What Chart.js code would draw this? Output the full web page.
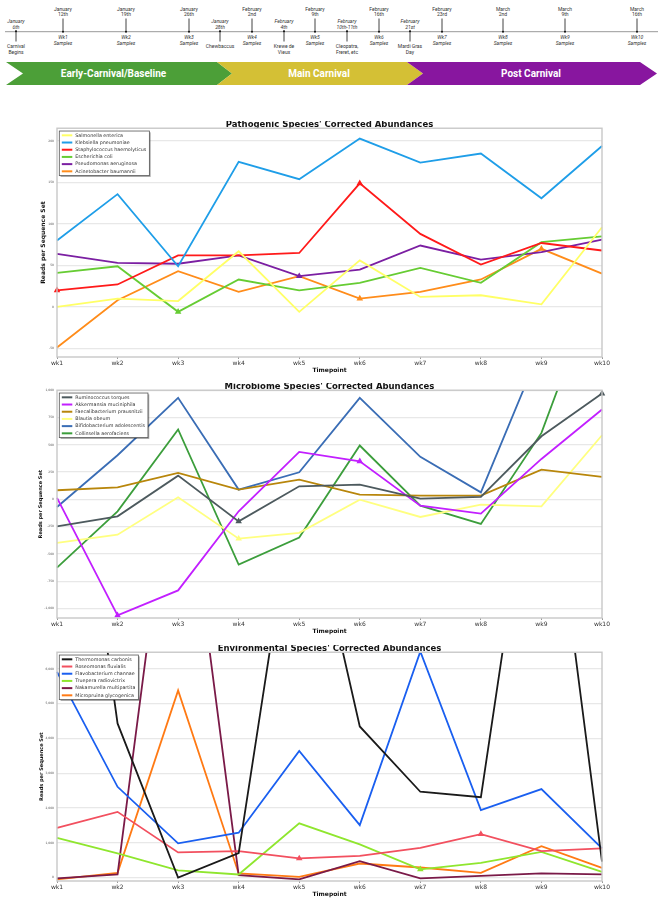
<!DOCTYPE html>
<html>
<head>
<meta charset="utf-8">
<script src="https://cdn.jsdelivr.net/npm/chart.js@4.4.1/dist/chart.umd.min.js"></script>
<style>
  body { margin: 0; width: 670px; height: 900px; background: #fff; position: relative; overflow: hidden; }
  .box { position: absolute; left: 0; width: 670px; }
</style>
</head>
<body>
<svg id="timeline" width="670" height="92" style="position:absolute;left:0;top:0"></svg>
<div class="box" style="top:121px;height:253px"><canvas id="path"></canvas></div>
<div class="box" style="top:383px;height:252px"><canvas id="micro"></canvas></div>
<div class="box" style="top:645px;height:253px"><canvas id="env"></canvas></div>
<script>
// timeline header
const tlWeekX = [63, 126, 189, 252, 315, 379, 442, 503, 565, 637];
const tlWeekDates = [['January', '12th'], ['January', '19th'], ['January', '26th'], ['February', '2nd'], ['February', '9th'],
  ['February', '16th'], ['February', '23rd'], ['March', '2nd'], ['March', '9th'], ['March', '16th']];
const tlEventX = [16, 220, 284, 347, 410];
const tlEventDates = [['January', '6th'], ['January', '28th'], ['February', '4th'], ['February', '10th-11th'], ['February', '21st']];
const tlEventNotes = [['Carnival', 'Begins'], ['Chewbaccus'], ['Krewe de', 'Vieux'], ['Cleopatra,', 'Freret, etc'], ['Mardi Gras', 'Day']];
const phases = ['Early-Carnival/Baseline', 'Main Carnival', 'Post Carnival'];

// chart data
const weeks = ['wk1', 'wk2', 'wk3', 'wk4', 'wk5', 'wk6', 'wk7', 'wk8', 'wk9', 'wk10'];

const pathNames = ['Salmonella enterica', 'Klebsiella pneumoniae', 'Staphylococcus haemolyticus', 'Escherichia coli', 'Pseudomonas aeruginosa', 'Acinetobacter baumannii'];
const salmonella = [0, 10, 7, 67, -6, 56, 12, 14, 3, 96];
const klebsiella = [80, 136, 49, 175, 154, 203, 174, 185, 131, 194];
const staph = [20, 27, 62, 62, 65, 149, 88, 51, 77, 68];
const ecoli = [41, 49, -6, 33, 20, 29, 47, 29, 78, 85];
const pseudomonas = [64, 53, 52, 62, 37, 45, 74, 57, 66, 81];
const acinetobacter = [-49, 8, 43, 18, 37, 10, 18, 33, 70, 40];
const pathTicks = [-50, 0, 50, 100, 150, 200];

const microNames = ['Ruminococcus torques', 'Akkermansia muciniphila', 'Faecalibacterium prausnitzii', 'Blautia obeum', 'Bifidobacterium adolescentis', 'Collinsella aerofaciens'];
const ruminococcus = [-248, -156, 217, -202, 119, 135, 6, 22, 578, 970];
const akkermansia = [13, -1064, -835, -110, 435, 349, -58, -131, 370, 823];
const faecali = [83, 110, 242, 89, 181, 43, 34, 34, 272, 205];
const blautia = [-400, -324, 18, -361, -308, -3, -162, -49, -64, 587];
const bifido = [-70, 404, 930, 89, 248, 930, 389, 64, 1400, 1300];
const collinsella = [-627, -110, 640, -599, -351, 493, -58, -226, 609, 2100];
const microTicks = [-1000, -750, -500, -250, 0, 250, 500, 750, 1000];

const envNames = ['Thermomonas carbonis', 'Roseomonas fluvialis', 'Flavobacterium channae', 'Truepera radiovictrix', 'Nakamurella multipartita', 'Micropruina glycogenica'];
const thermomonas = [17000, 4433, 0, 705, 12000, 4346, 2468, 2312, 14000, 462];
const roseomonas = [1430, 1890, 725, 760, 550, 625, 855, 1250, 760, 840];
const flavobacterium = [5913, 2610, 985, 1290, 3640, 1510, 6500, 1940, 2545, 840];
const truepera = [1145, 695, 205, 90, 1560, 955, 235, 425, 740, 165];
const nakamurella = [-20, 90, 13500, 70, -50, 475, -20, 50, 120, 90];
const micropruina = [-50, 135, 5380, 120, 20, 405, 290, 135, 905, 280];
const envTicks = [0, 1000, 2000, 3000, 4000, 5000, 6000];

// marked points (index per series)
const pathMarks = [[], [], [0, 5], [2], [4], [5, 8]];
const microMarks = [[3, 9], [1, 5], [], [3], [], []];
const envMarks = [[], [4, 7], [], [6], [], []];

// ---- timeline drawing
const svg = document.getElementById('timeline');
const NS = 'http://www.w3.org/2000/svg';
function el(tag, attrs, text) {
  const e = document.createElementNS(NS, tag);
  for (const k in attrs) e.setAttribute(k, attrs[k]);
  if (text) e.textContent = text;
  svg.appendChild(e);
  return e;
}
function lines(x, y, parts, italic) {
  const t = el('text', { x, y, 'text-anchor': 'middle', 'font-family': 'Roboto', 'font-size': 5, fill: '#333', 'font-style': italic ? 'italic' : 'normal' });
  parts.forEach((p, i) => {
    const s = document.createElementNS(NS, 'tspan');
    s.setAttribute('x', x);
    s.setAttribute('dy', i ? 5.4 : 0);
    s.textContent = p;
    t.appendChild(s);
  });
}
el('line', { x1: 5, y1: 31.7, x2: 658, y2: 31.7, stroke: '#999', 'stroke-width': 1 });
tlWeekX.forEach((x, i) => {
  el('line', { x1: x, y1: 18.5, x2: x, y2: 31.7, stroke: '#111', 'stroke-width': 0.8 });
  el('circle', { cx: x, cy: 31.7, r: 1, fill: '#111' });
  lines(x, 10.8, tlWeekDates[i], false);
  lines(x, 39.1, ['Wk' + (i + 1), 'Samples'], true);
});
tlEventX.forEach((x, i) => {
  el('line', { x1: x, y1: 30.5, x2: x, y2: 41.5, stroke: '#111', 'stroke-width': 0.8 });
  el('circle', { cx: x, cy: 31.2, r: 1, fill: '#111' });
  lines(x, 23.3, tlEventDates[i], true);
  lines(x, 48.1, tlEventNotes[i], false);
});
el('polygon', { points: '6,62 217,62 232,73.5 217,85 6,85 23,73.5', fill: '#4c9f38' });
el('polygon', { points: '217,62 407,62 423,73.5 407,85 217,85 232,73.5', fill: '#d4c035' });
el('polygon', { points: '407,62 640,62 657,73.5 640,85 407,85 423,73.5', fill: '#88169f' });
[113.5, 319, 531].forEach((x, i) => {
  el('text', { x, y: 77, 'text-anchor': 'middle', 'font-family': 'Roboto', 'font-weight': 'bold', 'font-size': 10, fill: '#fff' }, phases[i]);
});

// ---- charts
Chart.defaults.font.family = '"DejaVu Sans"';
Chart.defaults.animation = false;

const frame = {
  id: 'frame',
  afterDatasetsDraw(chart) {
    const { ctx, chartArea: a } = chart;
    ctx.save();
    ctx.strokeStyle = '#c8c8c8';
    ctx.lineWidth = 1.4;
    ctx.strokeRect(a.left, a.top, a.right - a.left, a.bottom - a.top);
    ctx.restore();
  }
};

const boxLegend = {
  id: 'boxLegend',
  afterDatasetsDraw(chart) {
    const { ctx, chartArea: a } = chart;
    const sets = chart.data.datasets;
    ctx.save();
    ctx.font = '4.8px "DejaVu Sans"';
    const tw = Math.max(...sets.map(d => ctx.measureText(d.label).width));
    const x = a.left + 2.3, y = a.top + 2.8, w = tw + 19, h = sets.length * 7.2 + 1.4;
    ctx.fillStyle = 'rgba(0,0,0,0.35)';
    ctx.fillRect(x + 1.3, y + 1.3, w, h);
    ctx.fillStyle = '#fff';
    ctx.fillRect(x, y, w, h);
    ctx.strokeStyle = '#555';
    ctx.lineWidth = 0.8;
    ctx.strokeRect(x, y, w, h);
    ctx.textBaseline = 'middle';
    sets.forEach((d, i) => {
      const cy = y + 4.3 + i * 7.2;
      ctx.strokeStyle = d.borderColor;
      ctx.lineWidth = 2;
      ctx.beginPath();
      ctx.moveTo(x + 2.5, cy);
      ctx.lineTo(x + 13, cy);
      ctx.stroke();
      ctx.fillStyle = '#333';
      ctx.fillText(d.label, x + 16, cy);
    });
    ctx.restore();
  }
};

function makeChart(id, title, names, series, colors, marks, yMin, yMax, yTicks, opts) {
  new Chart(document.getElementById(id), {
    type: 'line',
    data: {
      labels: weeks,
      datasets: series.map((s, i) => ({
        label: names[i],
        data: s,
        borderColor: colors[i],
        backgroundColor: colors[i],
        borderWidth: 1.8,
        tension: 0,
        pointStyle: 'triangle',
        pointRadius: ctx => marks[i].includes(ctx.dataIndex) ? 2 : 0,
        pointHoverRadius: 0
      }))
    },
    options: {
      responsive: true,
      maintainAspectRatio: false,
      devicePixelRatio: 1,
      layout: { padding: { left: 0, right: 68, top: 0, bottom: 0 } },
      plugins: {
        legend: { display: false },
        tooltip: { enabled: false },
        title: { display: true, fullSize: false, text: title, color: '#111', padding: 0, font: { size: 8.5, weight: 'bold', lineHeight: 0.85 } }
      },
      scales: {
        x: {
          grid: { drawOnChartArea: false, drawTicks: true, tickLength: 2, color: '#999' },
          border: { display: false },
          ticks: { font: { size: 6 }, color: '#333', padding: 1, maxRotation: 0, autoSkip: false },
          title: { display: true, text: 'Timepoint', color: '#111', padding: 0, font: { size: 6, weight: 'bold' } },
          afterFit(s) { s.height = 17; s.paddingLeft = 0; s.paddingRight = 0; }
        },
        y: {
          min: yMin,
          max: yMax,
          afterBuildTicks(s) { s.ticks = yTicks.map(v => ({ value: v })); },
          grid: { color: '#e8e8e8', lineWidth: 1.2, drawTicks: false },
          border: { display: false },
          ticks: { font: { size: 3 }, color: '#555', padding: 3 },
          title: { display: true, text: 'Reads per Sequence Set', color: '#111', padding: { top: opts.yTitlePad, bottom: 0 }, font: { size: opts.yTitleSize, weight: 'bold' } },
          afterFit(s) { s.width = 57; }
        }
      }
    },
    plugins: [frame, boxLegend]
  });
}

makeChart('path', "Pathogenic Species' Corrected Abundances", pathNames,
  [salmonella, klebsiella, staph, ecoli, pseudomonas, acinetobacter],
  ['#ffff66', '#1f9ee8', '#ff1a1a', '#66cc33', '#7b1fa2', '#ff8c1a'],
  pathMarks, -60.5, 215.5, pathTicks, { yTitleSize: 6, yTitlePad: 39.4 });

makeChart('micro', "Microbiome Species' Corrected Abundances", microNames,
  [ruminococcus, akkermansia, faecali, blautia, bifido, collinsella],
  ['#4d5a5e', '#c21fff', '#b8860b', '#ffff80', '#3a6db5', '#3c9e3c'],
  microMarks, -1088, 1000, microTicks, { yTitleSize: 5, yTitlePad: 37.7 });

makeChart('env', "Environmental Species' Corrected Abundances", envNames,
  [thermomonas, roseomonas, flavobacterium, truepera, nakamurella, micropruina],
  ['#1a1a1a', '#f2505f', '#1a5ff0', '#8fe62e', '#7a1a48', '#ff7a14'],
  envMarks, -98, 6480, envTicks, { yTitleSize: 5, yTitlePad: 39 });
</script>
</body>
</html>
